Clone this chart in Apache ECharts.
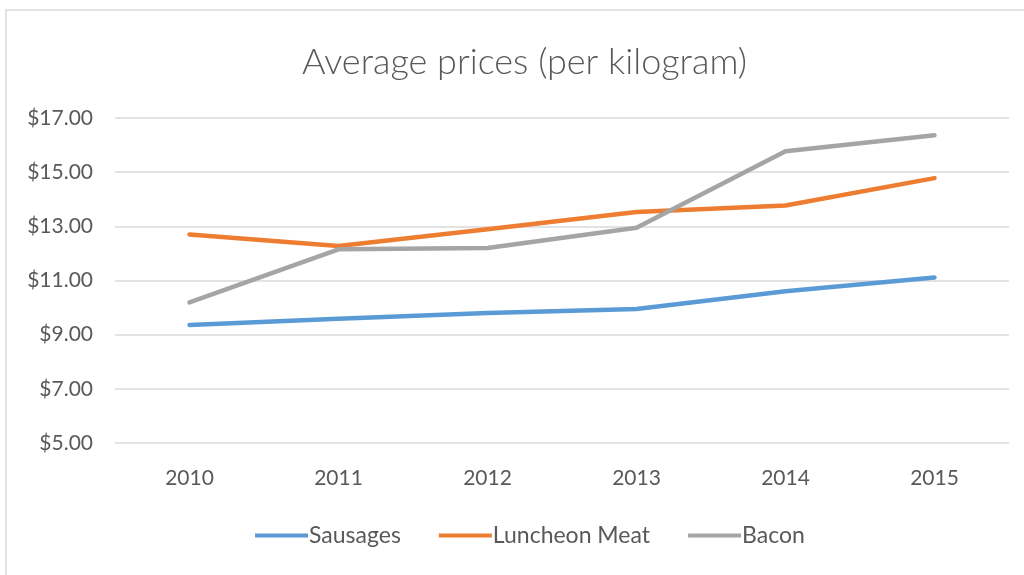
<!DOCTYPE html>
<html><head><meta charset="utf-8">
<script src="https://cdn.jsdelivr.net/npm/echarts@6/dist/echarts.min.js"></script>
<style>html,body{margin:0;padding:0;background:#fff}#c{width:1024px;height:575px}</style>
</head><body><div id="c"></div>
<script>
const categories = ['2010','2011','2012','2013','2014','2015'];
const sausages = [9.36, 9.59, 9.80, 9.95, 10.60, 11.11];
const luncheonMeat = [12.70, 12.27, 12.89, 13.53, 13.77, 14.78];
const bacon = [10.19, 12.15, 12.20, 12.95, 15.77, 16.36];
const seriesNames = ['Sausages','Luncheon Meat','Bacon'];
const colors = ['#5B9BD5','#ED7D31','#A5A5A5'];
const font = 'Lato, "Open Sans", sans-serif';
const chart = echarts.init(document.getElementById('c'));
const mk = (name, data, color) => ({
  name, type:'line', data, symbol:'none', smooth:false,
  lineStyle:{width:4.5, color, cap:'round', join:'round'}, itemStyle:{color}
});
chart.setOption({
  animation:false,
  backgroundColor:'#fff',
  graphic:[{type:'rect', shape:{x:6,y:10,width:1100,height:700}, style:{fill:'none', stroke:'#D9D9D9', lineWidth:1.5}, silent:true}],
  title:{text:'Average prices (per kilogram)', left:297, top:39, textStyle:{fontFamily:font, fontWeight:300, fontSize:36, color:'#595959'}},
  legend:{bottom:23, left:250, itemWidth:53, itemHeight:4, itemGap:38, icon:'rect',
    textStyle:{fontFamily:font, fontSize:23, color:'#595959', padding:[0,0,0,-4]}, data:seriesNames},
  grid:{left:115, right:15, top:118, bottom:132, containLabel:false},
  xAxis:{type:'category', data:categories, boundaryGap:true,
    axisLine:{show:false}, axisTick:{show:false},
    axisLabel:{fontFamily:font, fontSize:21, color:'#595959', margin:25}},
  yAxis:{type:'value', min:5, max:17, interval:2,
    axisLine:{show:false}, axisTick:{show:false},
    splitLine:{lineStyle:{color:'#D9D9D9', width:1.5}},
    axisLabel:{fontFamily:font, fontSize:21, color:'#595959', margin:22, formatter:v=>'$'+v.toFixed(2)}},
  series:[mk(seriesNames[0], sausages, colors[0]), mk(seriesNames[1], luncheonMeat, colors[1]), mk(seriesNames[2], bacon, colors[2])]
});
</script></body></html>
